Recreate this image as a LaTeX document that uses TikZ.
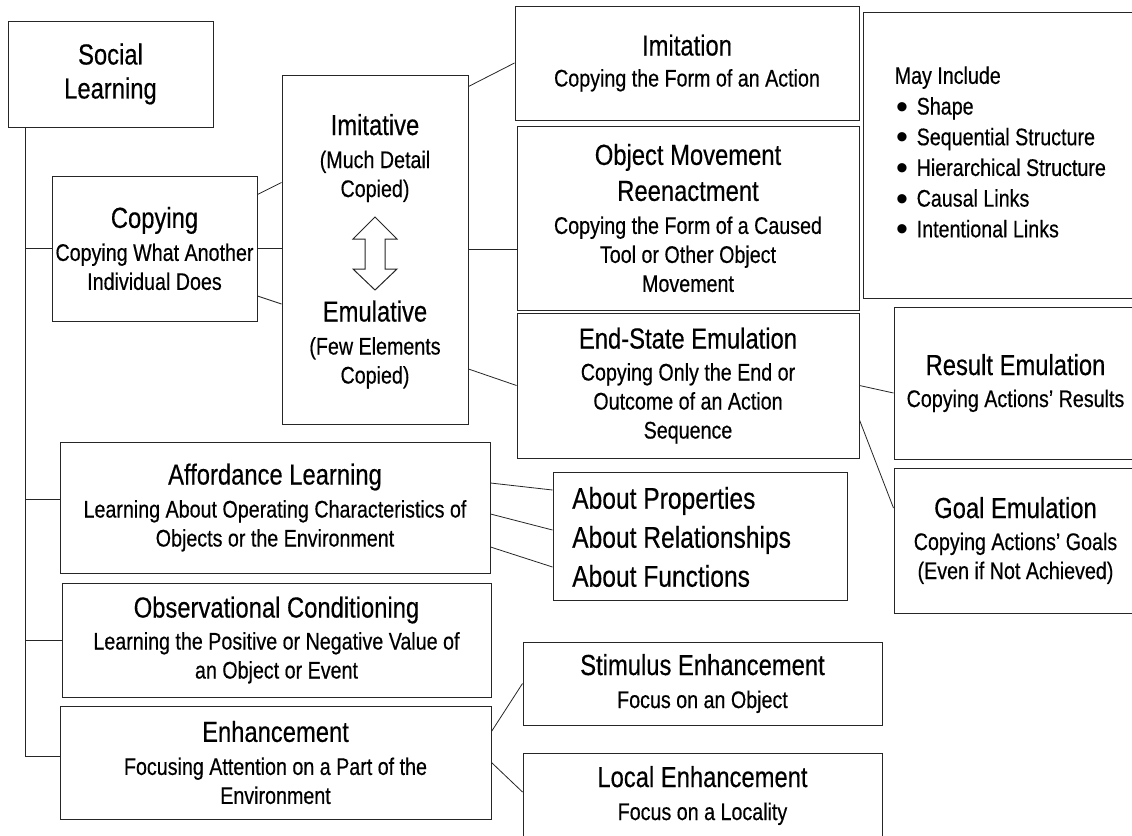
\documentclass[tikz,border=0pt]{standalone}
\usepackage{fontspec}
\setmainfont{Liberation Sans}[FakeStretch=0.82, FakeBold=0.4]
\newfontfamily\bulletfont{Liberation Sans}
\newcommand\hd[1]{{\fontsize{29}{35}\selectfont #1}}
\newcommand\itm[1]{\makebox[22pt][l]{\hspace{1.5pt}\smash{\raisebox{-3.5pt}{\bulletfont\fontsize{34}{30}\selectfont\textbullet}}}#1}

\begin{document}
\begin{tikzpicture}[x=1pt, y=-1pt,
    lbl/.style={inner sep=0pt, align=center, text=black,
      font=\fontsize{24}{29}\selectfont},
    box/.style={lbl, draw=black!85, line width=1pt},
    link/.style={draw=black!85, line width=0.8pt}]
  \useasboundingbox (0,0) rectangle (1132,835);
  \fill[white] (0,0) rectangle (1132,835);
  \clip (0,0) rectangle (1132,835);

  % left column
  \node[box, minimum width=205pt, minimum height=106pt] (social) at (110.5,74)
    {\hd{Social}\\[5pt]\hd{Learning}};
  \node[box, minimum width=205pt, minimum height=145pt] (copy) at (154.5,248.5)
    {\hd{Copying}\\[4pt]Copying What Another\\Individual Does};
  \node[box, minimum width=430pt, minimum height=131pt] (afford) at (275,507.5)
    {\hd{Affordance Learning}\\[4pt]Learning About Operating Characteristics of\\Objects or the Environment};
  \node[box, minimum width=429pt, minimum height=114pt] (obscond) at (276.5,640)
    {\hd{Observational Conditioning}\\[3pt]Learning the Positive or Negative Value of\\an Object or Event};
  \node[box, minimum width=431pt, minimum height=113pt] (enhance) at (275.5,762.5)
    {\hd{Enhancement}\\[4pt]Focusing Attention on a Part of the\\Environment};

  % imitative / emulative
  \node[box, minimum width=186pt, minimum height=349pt] (imem) at (375,249.5) {};
  \node[lbl] (imtv) at (375,158) {\hd{Imitative}\\[4pt](Much Detail\\Copied)};
  \node[lbl] (emtv) at (375,344.5) {\hd{Emulative}\\[4pt](Few Elements\\Copied)};
  \draw[link, line width=1pt] (375,217) -- (397,239) -- (385,239) -- (385,269)
    -- (397,269) -- (375,290) -- (353,269) -- (365,269) -- (365,239)
    -- (353,239) -- cycle;

  % middle column
  \node[box, minimum width=344pt, minimum height=114pt] (imitation) at (687,63)
    {\hd{Imitation}\\[2pt]Copying the Form of an Action};
  \node[box, minimum width=342pt, minimum height=184pt] (objmove) at (688,218)
    {\hd{Object Movement}\\[7pt]\hd{Reenactment}\\[4pt]Copying the Form of a Caused\\Tool or Other Object\\Movement};
  \node[box, minimum width=342pt, minimum height=145pt] (endstate) at (688,385.5)
    {\hd{End-State Emulation}\\[3pt]Copying Only the End or\\Outcome of an Action\\Sequence};
  \node[box, minimum width=294pt, minimum height=128pt] (about) at (700,536) {};
  \node[lbl, align=left, anchor=west, font=\fontsize{30}{39}\selectfont] (abouttxt)
    at ([xshift=19.5pt,yshift=-1pt]about.west)
    {About Properties\\About Relationships\\About Functions};
  \node[box, minimum width=359pt, minimum height=83pt] (stimulus) at (702.5,683.5)
    {\hd{Stimulus Enhancement}\\[4pt]Focus on an Object};
  \node[box, minimum width=359pt, minimum height=85pt] (local) at (702.5,795.5)
    {\hd{Local Enhancement}\\[4pt]Focus on a Locality};

  % right column
  \node[box, minimum width=277pt, minimum height=286pt] (mayinc) at (1001.5,155) {};
  \node[lbl, align=left, anchor=west, font=\fontsize{24}{30.7}\selectfont] (mayinctxt)
    at ([xshift=32pt,yshift=3pt]mayinc.west)
    {May Include\\\itm{Shape}\\\itm{Sequential Structure}\\\itm{Hierarchical Structure}\\\itm{Causal Links}\\\itm{Intentional Links}};
  \node[box, minimum width=243pt, minimum height=152pt] (result) at (1015.5,383)
    {\hd{Result Emulation}\\[3pt]Copying Actions’ Results};
  \node[box, minimum width=243pt, minimum height=145pt] (goal) at (1015.5,540.5)
    {\hd{Goal Emulation}\\[3pt]Copying Actions’ Goals\\(Even if Not Achieved)};

  \begin{scope}[link]
    \coordinate (trunk) at ([xshift=18pt]social.south west);
    \draw (trunk) |- ([yshift=6.5pt]enhance.west);
    \draw (trunk |- copy.west) -- (copy.west);
    \draw (trunk |- afford.west) ++(0,-8.5) -- ([yshift=8.5pt]afford.west);
    \draw (trunk |- obscond.west) -- (obscond.west);

    \draw ([yshift=-19pt]copy.north east) -- ([yshift=-108pt]imem.north west);
    \draw (copy.east) -- (copy.east -| imem.west);
    \draw ([yshift=-47.5pt]copy.east) -- ([yshift=-54.5pt]imem.west);

    \draw ([yshift=-12pt]imem.north east) -- (imitation.west);
    \draw (imem.east) -- (imem.east -| objmove.west);
    \draw ([yshift=-119.5pt]imem.east) -- (endstate.west);

    \draw (endstate.east) -- ([yshift=-10pt]result.west);
    \draw ([yshift=-34.5pt]endstate.east) -- ([yshift=32.5pt]goal.west);

    \draw ([yshift=24.5pt]afford.east) -- ([yshift=46pt]about.west);
    \draw ([yshift=-6.5pt]afford.east) -- ([yshift=6pt]about.west);
    \draw ([yshift=-39.5pt]afford.east) -- ([yshift=-31pt]about.west);

    \draw ([yshift=-26pt]enhance.north east) -- (stimulus.west);
    \draw (enhance.east) -- ([yshift=3.5pt]local.west);
  \end{scope}
\end{tikzpicture}
\end{document}
